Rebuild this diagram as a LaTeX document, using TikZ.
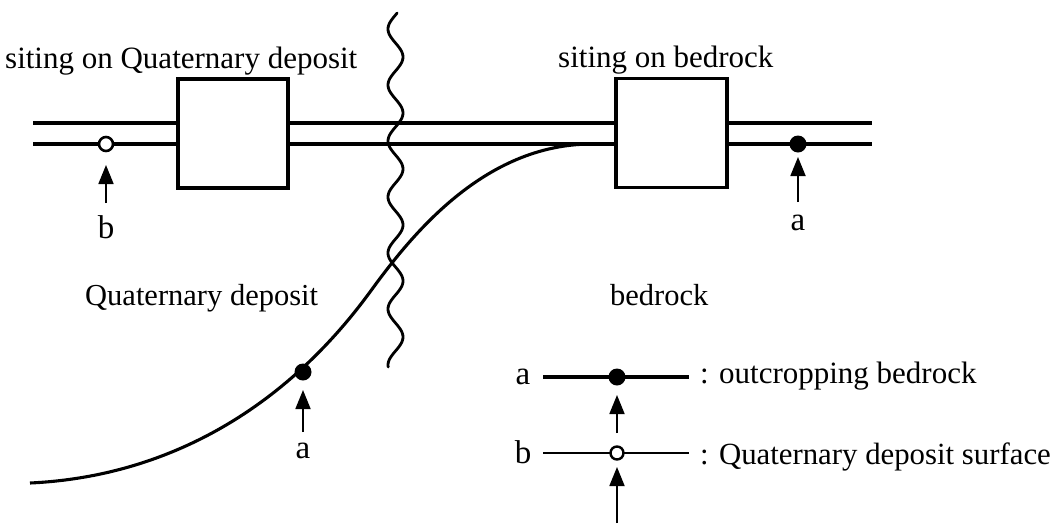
\documentclass[tikz,border=0pt]{standalone}
\usepackage{fontspec}
\setmainfont{Liberation Serif}
\usetikzlibrary{arrows.meta}
\begin{document}
\begin{tikzpicture}[x=1pt,y=-1pt,
  road/.style={line width=3.1pt},
  house/.style={draw, line width=3.1pt, fill=white, inner sep=0pt},
  pointer/.style={line width=1.8pt, -{Triangle[length=19pt,width=15pt]}},
  solidpt/.style={circle, fill=black, inner sep=0pt, minimum size=17pt},
  hollowpt/.style={circle, draw, fill=white, line width=2.6pt, inner sep=0pt, minimum size=14pt},
  label/.style={inner sep=0pt, anchor=base west, font=\fontsize{31}{31}\selectfont},
  letter/.style={inner sep=0pt, font=\fontsize{33}{33}\selectfont, anchor=base}]
\useasboundingbox (0,0) rectangle (1053,523);

% buildings
\node[house, minimum width=110pt, minimum height=109pt] (house1) at (233,133.5) {};
\node[house, minimum width=111pt, minimum height=109pt] (house2) at (671.5,133) {};

% road edges
\coordinate (topL) at (33,123);
\coordinate (botL) at (33,144);
\coordinate (topR) at (872,123);
\coordinate (botR) at (872,144);
\draw[road] (topL) -- (topL -| house1.west);
\draw[road] (botL) -- (botL -| house1.west);
\draw[road] (topL -| house1.east) -- (topL -| house2.west);
\draw[road] (botL -| house1.east) -- (botL -| house2.west);
\draw[road] (topR -| house2.east) -- (topR);
\draw[road] (botR -| house2.east) -- (botR);

% boundary between deposit and bedrock
\coordinate (bstart) at (30,483);
\coordinate (bmid) at (370,292);
\coordinate (bend) at (592,144);
\draw[road] (bstart) .. controls (160,477) and (280,415) .. (bmid)
  .. controls (410,237) and (483,144) .. (bend);

% break line
\draw[line width=2.8pt, line cap=round]
  plot[domain=13:367, samples=240, variable=\t]
  ({395.5-7.5*cos(6.42857*(\t-29))}, \t);

% observation points
\node[hollowpt] (ptb) at (106,144) {};
\node[solidpt] (pta) at (798,144) {};
\node[solidpt] (ptc) at (303,372) {};

\coordinate (tipb) at (106,165);
\coordinate (tailb) at (106,203);
\coordinate (tipa) at (798,157);
\coordinate (taila) at (798,202);
\coordinate (tipc) at (303,390);
\coordinate (tailc) at (303,432);
\draw[pointer] (tailb) -- (tipb);
\draw[pointer] (taila) -- (tipa);
\draw[pointer] (tailc) -- (tipc);

\node[letter] (lb) at (106,238) {b};
\node[letter] (la) at (798,230) {a};
\node[letter] (lc) at (303,458) {a};

% labels
\node[label] (t1) at (5,68) {siting on Quaternary deposit};
\node[label] (t2) at (558,67) {siting on bedrock};
\node[label, font=\fontsize{30.5}{30.5}\selectfont] (t3) at (85,305) {Quaternary deposit};
\node[label, font=\fontsize{30.5}{30.5}\selectfont] (t4) at (610,305) {bedrock};

% legend
\node[letter] (ka) at (523,384) {a};
\node[letter] (kb) at (523,463) {b};
\coordinate (kaL) at (543,377);
\coordinate (kaR) at (689,377);
\coordinate (kbL) at (543,453);
\coordinate (kbR) at (689,453);
\draw[line width=3.4pt] (kaL) -- (kaR);
\draw[line width=2.2pt] (kbL) -- (kbR);
\node[solidpt] (kpa) at (617,377) {};
\node[hollowpt, minimum size=13pt, line width=2.4pt] (kpb) at (617,453) {};
\coordinate (ktipa) at (617,395);
\coordinate (ktaila) at (617,433);
\coordinate (ktipb) at (617,467);
\coordinate (ktailb) at (617,523);
\draw[pointer] (ktaila) -- (ktipa);
\draw[pointer] (ktailb) -- (ktipb);
\node[label] (k1) at (700,383) {: outcropping bedrock};
\node[label, font=\fontsize{30.8}{30.8}\selectfont] (k2) at (700,464) {: Quaternary deposit surface};
\end{tikzpicture}
\end{document}
